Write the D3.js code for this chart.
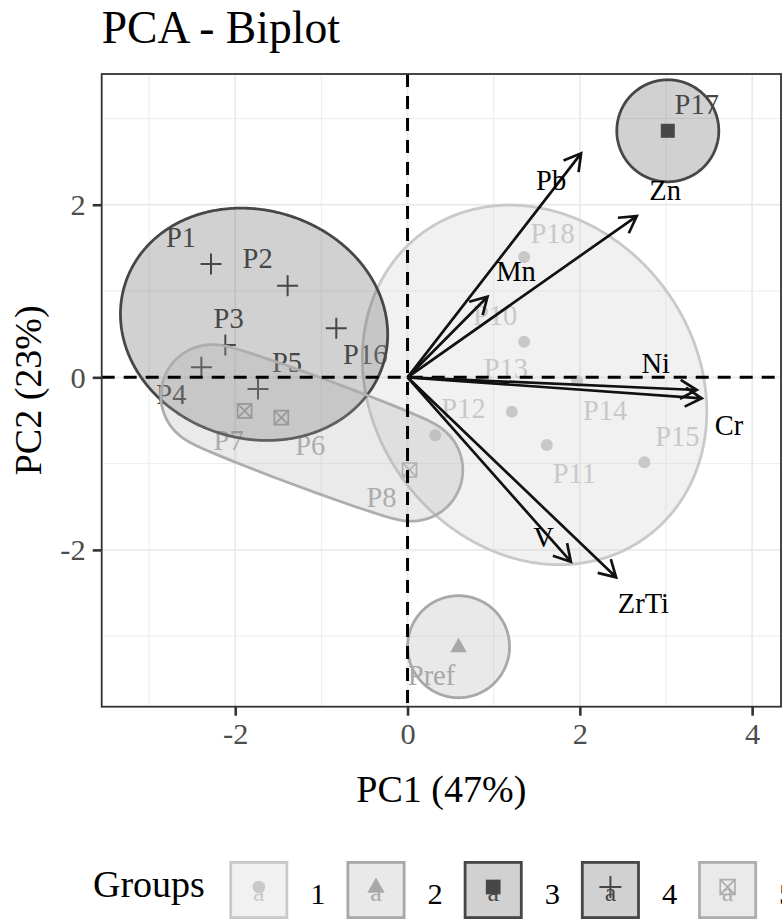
<!DOCTYPE html>
<html><head><meta charset="utf-8">
<script src="https://cdn.jsdelivr.net/npm/d3@7"></script>
<style>body{margin:0;background:#fff} svg{display:block}</style>
</head><body><div id="chart"></div>
<script>
// ---------------- DATA ----------------
const title = "PCA - Biplot";
const xTitle = "PC1 (47%)";
const yTitle = "PC2 (23%)";
const legendTitle = "Groups";
const groupLevels = ["1","2","3","4","5"];

const pointNames  = ["P1","P2","P3","P4","P5","P6","P7","P8","P10","P11","P12","P13","P14","P15","P16","P17","P18","Pref"];
const pointGroups = ["4","4","4","4","4","5","5","5","1","1","1","1","1","1","4","3","1","2"];
const pc1 = [-2.281,-1.392,-2.115,-2.393,-1.736,-1.465,-1.891,0.023,1.354,1.617,0.321,1.211,1.969,2.749,-0.827,3.021,1.354,0.592];
const pc2 = [1.313,1.061,0.374,0.116,-0.136,-0.468,-0.390,-1.074,0.413,-0.784,-0.672,-0.399,-0.043,-0.985,0.568,2.857,1.394,-3.122];

const varNames = ["Pb","Zn","Mn","Ni","Cr","V","ZrTi"];
const varPC1 = [2.015,2.661,0.928,3.357,3.415,1.896,2.421];
const varPC2 = [2.596,1.869,0.934,-0.147,-0.243,-2.137,-2.318];

const xTicks = [-2,0,2,4];
const yTicks = [-2,0,2];
const xMinor = [-3,-1,1,3];
const yMinor = [-3,-1,1,3];
const xDomain = [-3.55, 4.335];
const yDomain = [-3.817, 3.515];

// ---------------- STYLE / LAYOUT ----------------
const groupColor = {"1":"#c9c9c9","2":"#a8a8a8","3":"#474747","4":"#474747","5":"#adadad"};
const groupShape = {"1":"circle","2":"triangle","3":"square","4":"plus","5":"boxx"};
const fillAlpha = 0.25;
const expandPx = 51;
const serif = "'Liberation Serif','Times New Roman',serif";
// repel-style label offsets (px) from point to text centre
const labelOffset = {P1:[-30,-26.5],P2:[-30,-26.7],P3:[3.3,-26],P4:[-30,27.7],P5:[29,-26.5],P16:[29,26.7],
  P7:[-16,30],P6:[29,28],P8:[-28,27.5],P18:[28.5,-23.7],P10:[-29,-25.7],P13:[-6,-42.7],P12:[28.3,-26.3],
  P14:[28,30],P11:[27.5,28.5],P15:[33,-25.6],Pref:[-27,29],P17:[29,-26.7]};
const varLabelOffset = {Pb:[-30,27.7],Zn:[28.3,-25],Mn:[28.5,-25],Ni:[-41,-26],Cr:[27.3,27.7],V:[-27.4,-24.2],ZrTi:[27.3,26.7]};

const W = 782, H = 921;
const panel = {left:101.7, right:781, top:74, bottom:706.7};

const svg = d3.select("#chart").append("svg").attr("width",W).attr("height",H)
  .style("font-family", serif);

const x = d3.scaleLinear().domain(xDomain).range([panel.left, panel.right]);
const y = d3.scaleLinear().domain(yDomain).range([panel.bottom, panel.top]);

svg.append("clipPath").attr("id","pclip").append("rect")
  .attr("x",panel.left).attr("y",panel.top)
  .attr("width",panel.right-panel.left).attr("height",panel.bottom-panel.top);

const gPanel = svg.append("g").attr("clip-path","url(#pclip)");

// grid
gPanel.selectAll(".vminor").data(xMinor).join("line")
  .attr("x1",d=>x(d)).attr("x2",d=>x(d)).attr("y1",panel.top).attr("y2",panel.bottom)
  .attr("stroke","#ededed").attr("stroke-width",1);
gPanel.selectAll(".hminor").data(yMinor).join("line")
  .attr("y1",d=>y(d)).attr("y2",d=>y(d)).attr("x1",panel.left).attr("x2",panel.right)
  .attr("stroke","#ededed").attr("stroke-width",1);
gPanel.selectAll(".vmajor").data(xTicks).join("line")
  .attr("x1",d=>x(d)).attr("x2",d=>x(d)).attr("y1",panel.top).attr("y2",panel.bottom)
  .attr("stroke","#ebebeb").attr("stroke-width",1.8);
gPanel.selectAll(".hmajor").data(yTicks).join("line")
  .attr("y1",d=>y(d)).attr("y2",d=>y(d)).attr("x1",panel.left).attr("x2",panel.right)
  .attr("stroke","#ebebeb").attr("stroke-width",1.8);

const pts = pointNames.map((n,i)=>({name:n, group:pointGroups[i], pc1:pc1[i], pc2:pc2[i]}));

function drawShape(g, shape, cx, cy, color, s=1){
  if (shape==="circle") g.append("circle").attr("cx",cx).attr("cy",cy).attr("r",6*s).attr("fill",color);
  else if (shape==="triangle") {
    const r=9*s;
    g.append("path").attr("d",`M${cx},${cy-r}L${cx+r*0.92},${cy+r*0.6}L${cx-r*0.92},${cy+r*0.6}Z`).attr("fill",color);
  } else if (shape==="square") {
    const h=7*s;
    g.append("rect").attr("x",cx-h).attr("y",cy-h).attr("width",2*h).attr("height",2*h).attr("fill",color);
  } else if (shape==="plus") {
    const h=10.5*s;
    g.append("path").attr("d",`M${cx-h},${cy}H${cx+h}M${cx},${cy-h}V${cy+h}`).attr("stroke",color).attr("stroke-width",2).attr("fill","none");
  } else if (shape==="boxx") {
    const h=7*s;
    g.append("path").attr("d",`M${cx-h},${cy-h}H${cx+h}V${cy+h}H${cx-h}ZM${cx-h},${cy-h}L${cx+h},${cy+h}M${cx+h},${cy-h}L${cx-h},${cy+h}`)
      .attr("stroke",color).attr("stroke-width",1.7).attr("fill","none");
  }
}

const gPts = gPanel.append("g");
pts.forEach(p=>drawShape(gPts, groupShape[p.group], x(p.pc1), y(p.pc2), groupColor[p.group]));

const labelSize = 28.5;
gPanel.append("g").selectAll("text").data(pts).join("text")
  .attr("x",d=>x(d.pc1)+labelOffset[d.name][0])
  .attr("y",d=>y(d.pc2)+labelOffset[d.name][1]+labelSize*0.331)
  .attr("text-anchor","middle").attr("font-size",labelSize)
  .attr("fill",d=>groupColor[d.group]).text(d=>d.name);

// ---- minimum volume enclosing ellipse (Khachiyan) + offset ----
function inv3(m){
  const [a,b,c]=m[0],[d,e,f]=m[1],[g,h,k]=m[2];
  const A=e*k-f*h, B=-(d*k-f*g), C=d*h-e*g;
  const det=a*A+b*B+c*C;
  return [[A/det,-(b*k-c*h)/det,(b*f-c*e)/det],
          [B/det,(a*k-c*g)/det,-(a*f-c*d)/det],
          [C/det,-(a*h-b*g)/det,(a*e-b*d)/det]];
}
function mvee(P){
  const n=P.length, d=2;
  if(n===1) return {cx:P[0][0],cy:P[0][1],a:0,b:0,phi:0};
  let u=new Array(n).fill(1/n);
  for(let it=0; it<20000; it++){
    const X=[[0,0,0],[0,0,0],[0,0,0]];
    P.forEach((p,i)=>{const q=[p[0],p[1],1];for(let r=0;r<3;r++)for(let s=0;s<3;s++)X[r][s]+=u[i]*q[r]*q[s];});
    const Xi=inv3(X);
    let mx=-Infinity,j=0;
    P.forEach((p,i)=>{const q=[p[0],p[1],1];let m=0;for(let r=0;r<3;r++)for(let s=0;s<3;s++)m+=q[r]*Xi[r][s]*q[s];if(m>mx){mx=m;j=i;}});
    const step=(mx-d-1)/((d+1)*(mx-1));
    const nu=u.map(v=>v*(1-step)); nu[j]+=step;
    let err=0; nu.forEach((v,i)=>err+=(v-u[i])**2);
    u=nu;
    if(Math.sqrt(err)<1e-7) break;
  }
  let cx=0,cy=0; P.forEach((p,i)=>{cx+=u[i]*p[0];cy+=u[i]*p[1];});
  let sxx=0,sxy=0,syy=0;
  P.forEach((p,i)=>{sxx+=u[i]*p[0]*p[0];sxy+=u[i]*p[0]*p[1];syy+=u[i]*p[1]*p[1];});
  sxx-=cx*cx; sxy-=cx*cy; syy-=cy*cy;
  const m=(sxx+syy)/2, dd=Math.sqrt(((sxx-syy)/2)**2+sxy**2);
  const s1=m+dd, s2=Math.max(m-dd,0);
  const phi=0.5*Math.atan2(2*sxy, sxx-syy);
  return {cx,cy,a:Math.sqrt(d*s1),b:Math.sqrt(d*s2),phi};
}
function offsetEllipsePath(e, E){
  const N=720, out=[];
  const a=e.a, b=Math.max(e.b,0.01);
  for(let k=0;k<N;k++){
    const t=2*Math.PI*k/N, nx=Math.cos(t), ny=Math.sin(t);
    const den=Math.sqrt(a*a*nx*nx+b*b*ny*ny);
    let px=0,py=0;
    if(den>1e-9){px=a*a*nx/den; py=b*b*ny/den;}
    px+=E*nx; py+=E*ny;
    const c=Math.cos(e.phi), s=Math.sin(e.phi);
    out.push([e.cx+px*c-py*s, e.cy+px*s+py*c]);
  }
  return "M"+out.map(p=>p[0].toFixed(2)+","+p[1].toFixed(2)).join("L")+"Z";
}
const gEll = gPanel.append("g");
groupLevels.forEach(gr=>{
  const P = pts.filter(p=>p.group===gr).map(p=>[x(p.pc1), y(p.pc2)]);
  const e = mvee(P);
  gEll.append("path").attr("d",offsetEllipsePath(e, expandPx))
    .attr("fill",groupColor[gr]).attr("fill-opacity",fillAlpha)
    .attr("stroke",groupColor[gr]).attr("stroke-width",2.8);
});

// dashed reference lines
gPanel.append("line").attr("x1",x(0)).attr("x2",x(0)).attr("y1",panel.top).attr("y2",panel.bottom)
  .attr("stroke","#000").attr("stroke-width",3).attr("stroke-dasharray","13,9");
gPanel.append("line").attr("y1",y(0)).attr("y2",y(0)).attr("x1",panel.left).attr("x2",panel.right)
  .attr("stroke","#000").attr("stroke-width",3).attr("stroke-dasharray","13,9");

// variable arrows
const vars = varNames.map((n,i)=>({name:n, pc1:varPC1[i], pc2:varPC2[i]}));
const gArr = gPanel.append("g");
vars.forEach(v=>{
  const x0=x(0), y0=y(0), x1=x(v.pc1), y1=y(v.pc2);
  const ang=Math.atan2(y1-y0, x1-x0), L=19, sp=Math.PI/6;
  gArr.append("path")
    .attr("d",`M${x0},${y0}L${x1},${y1}M${x1-L*Math.cos(ang-sp)},${y1-L*Math.sin(ang-sp)}L${x1},${y1}L${x1-L*Math.cos(ang+sp)},${y1-L*Math.sin(ang+sp)}`)
    .attr("stroke","#111").attr("stroke-width",2.7).attr("fill","none").attr("stroke-linejoin","miter");
});
gPanel.append("g").selectAll("text").data(vars).join("text")
  .attr("x",d=>x(d.pc1)+varLabelOffset[d.name][0])
  .attr("y",d=>y(d.pc2)+varLabelOffset[d.name][1]+labelSize*0.331)
  .attr("text-anchor","middle").attr("font-size",labelSize).attr("fill","#000").text(d=>d.name);

// panel border
svg.append("rect").attr("x",panel.left).attr("y",panel.top)
  .attr("width",panel.right-panel.left).attr("height",panel.bottom-panel.top)
  .attr("fill","none").attr("stroke","#333").attr("stroke-width",1.8);

// axes
const tickSize = 30.4;
const xAxis = svg.append("g").attr("transform",`translate(0,${panel.bottom})`)
  .call(d3.axisBottom(x).tickValues(xTicks).tickSize(9).tickPadding(7).tickFormat(d3.format("d")));
const yAxis = svg.append("g").attr("transform",`translate(${panel.left},0)`)
  .call(d3.axisLeft(y).tickValues(yTicks).tickSize(9).tickPadding(7).tickFormat(d3.format("d")));
[xAxis,yAxis].forEach(a=>{
  a.select(".domain").remove();
  a.selectAll(".tick line").attr("stroke","#333").attr("stroke-width",2.6);
  a.selectAll(".tick text").attr("fill","#4d4d4d").attr("font-size",tickSize).attr("font-family",serif);
});
xAxis.selectAll(".tick text").attr("dy","0.71em");
yAxis.selectAll(".tick text").attr("dy","0.33em");
xAxis.selectAll(".tick text").text(d=>String(d));
yAxis.selectAll(".tick text").text(d=>String(d));

// titles
svg.append("text").attr("x",panel.left).attr("y",43).attr("font-size",45.6).attr("fill","#000").text(title);
svg.append("text").attr("x",(panel.left+panel.right)/2).attr("y",802).attr("text-anchor","middle")
  .attr("font-size",38).attr("fill","#000").text(xTitle);
svg.append("text").attr("transform",`translate(41,${(panel.top+panel.bottom)/2}) rotate(-90)`)
  .attr("text-anchor","middle").attr("font-size",38).attr("fill","#000").text(yTitle);

// legend
const gLeg = svg.append("g");
gLeg.append("text").attr("x",93).attr("y",897).attr("font-size",38).attr("fill","#000").text(legendTitle);
const keyX0 = 229.3, keyStep = 117.2, keyW = 59, keyY = 861, keyH = 58;
groupLevels.forEach((gr,i)=>{
  const kx = keyX0 + i*keyStep;
  gLeg.append("rect").attr("x",kx+1.4).attr("y",keyY+1.4).attr("width",keyW-2.8).attr("height",keyH-2.8)
    .attr("fill",groupColor[gr]).attr("fill-opacity",fillAlpha).attr("stroke",groupColor[gr]).attr("stroke-width",2.8);
  const cx = kx+keyW/2, cy = keyY+keyH/2;
  gLeg.append("text").attr("x",cx).attr("y",cy+11).attr("text-anchor","middle").attr("font-size",26)
    .attr("fill",groupColor[gr]).text("a");
  drawShape(gLeg, groupShape[gr], cx, cy-3, groupColor[gr], 1.05);
  gLeg.append("text").attr("x",kx+keyW+22).attr("y",904).attr("font-size",30.4).attr("fill","#000").text(gr);
});
</script></body></html>
